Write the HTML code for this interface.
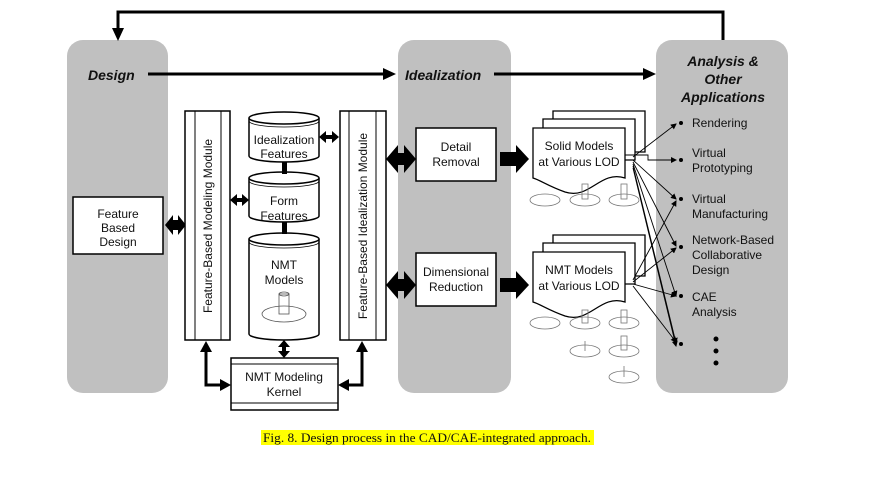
<!DOCTYPE html>
<html><head><meta charset="utf-8"><style>
body{margin:0;background:#fff;width:894px;height:478px;overflow:hidden}
svg text{font-family:"Liberation Sans",sans-serif;fill:#111}
</style></head><body>
<svg width="894" height="478" viewBox="0 0 894 478" xmlns="http://www.w3.org/2000/svg">
<defs>
<marker id="sm" markerWidth="6" markerHeight="6" refX="5" refY="3" orient="auto" markerUnits="userSpaceOnUse"><path d="M0,0 L6,3 L0,6z" fill="#000"/></marker>
</defs>
<rect x="67" y="40" width="101" height="353" rx="16" fill="#c0c0c0"/>
<rect x="398" y="40" width="113" height="353" rx="16" fill="#c0c0c0"/>
<rect x="656" y="40" width="132" height="353" rx="16" fill="#c0c0c0"/>
<polyline points="723,40 723,12 118,12 118,30" fill="none" stroke="#000" stroke-width="3"/>
<path d="M112,28 L124,28 L118,41z"/>
<text x="88" y="80" font-size="14" font-weight="bold" font-style="italic">Design</text>
<line x1="148" y1="74" x2="385" y2="74" stroke="#000" stroke-width="3"/>
<path d="M383,68 L396,74 L383,80z"/>
<text x="405" y="80" font-size="14" font-weight="bold" font-style="italic">Idealization</text>
<line x1="494" y1="74" x2="645" y2="74" stroke="#000" stroke-width="3"/>
<path d="M643,68 L656,74 L643,80z"/>
<text x="723" y="66" font-size="14" font-weight="bold" font-style="italic" text-anchor="middle">Analysis &amp;</text>
<text x="723" y="84" font-size="14" font-weight="bold" font-style="italic" text-anchor="middle">Other</text>
<text x="723" y="102" font-size="14" font-weight="bold" font-style="italic" text-anchor="middle">Applications</text>
<rect x="73" y="197" width="90" height="57" fill="#fff" stroke="#000" stroke-width="1.5"/>
<text x="118" y="218" font-size="12" text-anchor="middle">Feature</text>
<text x="118" y="232" font-size="12" text-anchor="middle">Based</text>
<text x="118" y="246" font-size="12" text-anchor="middle">Design</text>
<path d="M165,225 L173,215 L173,220 L178,220 L178,215 L186,225 L178,235 L178,230 L173,230 L173,235z"/>
<rect x="185" y="111" width="45" height="229" fill="#fff" stroke="#000" stroke-width="1.5"/>
<line x1="195" y1="111" x2="195" y2="340" stroke="#000"/><line x1="221" y1="111" x2="221" y2="340" stroke="#000"/>
<text transform="translate(212,226) rotate(-90)" font-size="12" text-anchor="middle">Feature-Based Modeling Module</text>
<rect x="340" y="111" width="46" height="229" fill="#fff" stroke="#000" stroke-width="1.5"/>
<line x1="349" y1="111" x2="349" y2="340" stroke="#000"/><line x1="376" y1="111" x2="376" y2="340" stroke="#000"/>
<text transform="translate(367,226) rotate(-90)" font-size="12" text-anchor="middle">Feature-Based Idealization Module</text>
<g fill="#fff" stroke="#000" stroke-width="1.5">
<path d="M249,118 L249,156 A35,6 0 0 0 319,156 L319,118"/>
<ellipse cx="284" cy="118" rx="35" ry="6"/>
<path d="M249,178 L249,216 A35,6 0 0 0 319,216 L319,178"/>
<ellipse cx="284" cy="178" rx="35" ry="6"/>
<path d="M249,239 L249,334 A35,6 0 0 0 319,334 L319,239"/>
<ellipse cx="284" cy="239" rx="35" ry="6"/>
</g>
<g fill="none" stroke="#000" stroke-width="0.8">
<path d="M249,121 A35,6 0 0 0 319,121"/><path d="M249,181 A35,6 0 0 0 319,181"/><path d="M249,242 A35,6 0 0 0 319,242"/>
</g>
<text x="284" y="144" font-size="12" text-anchor="middle">Idealization</text>
<text x="284" y="158" font-size="12" text-anchor="middle">Features</text>
<text x="284" y="205" font-size="12" text-anchor="middle">Form</text>
<text x="284" y="220" font-size="12" text-anchor="middle">Features</text>
<text x="284" y="269" font-size="12" text-anchor="middle">NMT</text>
<text x="284" y="284" font-size="12" text-anchor="middle">Models</text>
<g fill="none" stroke="#555" stroke-width="0.8">
<ellipse cx="284" cy="314" rx="22" ry="8"/><rect x="279" y="294" width="10" height="20"/><ellipse cx="284" cy="294" rx="5" ry="2"/>
</g>
<rect x="282" y="162" width="5" height="12"/><rect x="282" y="222" width="5" height="12"/>
<path d="M319,137 L326,131 L326,135 L332,135 L332,131 L339,137 L332,143 L332,139 L326,139 L326,143z"/>
<path d="M230,200 L237,194 L237,198 L242,198 L242,194 L249,200 L242,206 L242,202 L237,202 L237,206z"/>
<path d="M284,340 L290,347 L286,347 L286,351 L290,351 L284,358 L278,351 L282,351 L282,347 L278,347z"/>
<rect x="231" y="358" width="107" height="52" fill="#fff" stroke="#000" stroke-width="1.5"/>
<line x1="231" y1="364" x2="338" y2="364" stroke="#000"/><line x1="231" y1="403" x2="338" y2="403" stroke="#000"/>
<text x="284" y="381" font-size="12" text-anchor="middle">NMT Modeling</text>
<text x="284" y="396" font-size="12" text-anchor="middle">Kernel</text>
<polyline points="206,350 206,385 222,385" fill="none" stroke="#000" stroke-width="3"/>
<path d="M200,352 L206,341 L212,352z"/><path d="M220,379 L231,385 L220,391z"/>
<polyline points="362,350 362,385 348,385" fill="none" stroke="#000" stroke-width="3"/>
<path d="M356,352 L362,341 L368,352z"/><path d="M349,379 L338,385 L349,391z"/>
<path d="M386,159 L398,145 L398,153 L404,153 L404,145 L416,159 L404,173 L404,165 L398,165 L398,173z"/>
<path d="M386,285 L398,271 L398,279 L404,279 L404,271 L416,285 L404,299 L404,291 L398,291 L398,299z"/>
<rect x="416" y="128" width="80" height="53" fill="#fff" stroke="#000" stroke-width="1.5"/>
<text x="456" y="151" font-size="12" text-anchor="middle">Detail</text>
<text x="456" y="166" font-size="12" text-anchor="middle">Removal</text>
<rect x="416" y="253" width="80" height="53" fill="#fff" stroke="#000" stroke-width="1.5"/>
<text x="456" y="276" font-size="12" text-anchor="middle">Dimensional</text>
<text x="456" y="291" font-size="12" text-anchor="middle">Reduction</text>
<path d="M500,152 L516,152 L516,145 L529,159 L516,173 L516,166 L500,166z"/>
<path d="M500,278 L516,278 L516,271 L529,285 L516,299 L516,292 L500,292z"/>
<g fill="#fff" stroke="#000" stroke-width="1.3">
<path d="M553,111 L645,111 L645,152 L553,152z"/>
<path d="M543,119 L635,119 L635,160 L543,160z"/>
<path d="M533,128 L625,128 L625,178 C600,170 590,200 565,192 C548,186 540,180 533,178z"/>
<path d="M553,235 L645,235 L645,276 L553,276z"/>
<path d="M543,243 L635,243 L635,284 L543,284z"/>
<path d="M533,252 L625,252 L625,302 C600,294 590,324 565,316 C548,310 540,304 533,302z"/>
</g>
<text x="579" y="150" font-size="12" text-anchor="middle">Solid Models</text>
<text x="579" y="166" font-size="12" text-anchor="middle">at Various LOD</text>
<text x="579" y="274" font-size="12" text-anchor="middle">NMT Models</text>
<text x="579" y="290" font-size="12" text-anchor="middle">at Various LOD</text>
<g fill="none" stroke="#777" stroke-width="0.8">
<ellipse cx="545" cy="200" rx="15" ry="6"/><ellipse cx="585" cy="200" rx="15" ry="6"/><ellipse cx="624" cy="200" rx="15" ry="6"/>
<rect x="582" y="184" width="6" height="15"/><rect x="621" y="184" width="6" height="15"/>
<ellipse cx="545" cy="323" rx="15" ry="6"/><ellipse cx="585" cy="323" rx="15" ry="6"/><ellipse cx="624" cy="323" rx="15" ry="6"/>
<rect x="582" y="310" width="6" height="13"/><rect x="621" y="310" width="6" height="13"/>
<ellipse cx="585" cy="351" rx="15" ry="6"/><ellipse cx="624" cy="351" rx="15" ry="6"/>
<rect x="621" y="336" width="6" height="14"/><line x1="585" y1="341" x2="585" y2="351"/>
<ellipse cx="624" cy="377" rx="15" ry="6"/><line x1="624" y1="366" x2="624" y2="377"/>
</g>
<g stroke="#000" stroke-width="0.9" fill="none">
<polyline points="625,155 648,155 648,160 676,160" marker-end="url(#sm)"/>
<line x1="633" y1="157" x2="676" y2="124" marker-end="url(#sm)"/>
<line x1="633" y1="160" x2="676" y2="199" marker-end="url(#sm)"/>
<line x1="633" y1="162" x2="676" y2="246" marker-end="url(#sm)"/>
<line x1="633" y1="164" x2="676" y2="296" marker-end="url(#sm)"/>
<line x1="633" y1="166" x2="676" y2="343" marker-end="url(#sm)"/>
<line x1="633" y1="168" x2="676" y2="346" marker-end="url(#sm)"/>
<line x1="633" y1="280" x2="676" y2="201" marker-end="url(#sm)"/>
<line x1="633" y1="282" x2="676" y2="248" marker-end="url(#sm)"/>
<line x1="633" y1="284" x2="676" y2="296" marker-end="url(#sm)"/>
<line x1="633" y1="286" x2="676" y2="342" marker-end="url(#sm)"/>
</g>
<g fill="#000">
<circle cx="681" cy="123" r="2"/><circle cx="681" cy="160" r="2"/><circle cx="681" cy="199" r="2"/>
<circle cx="681" cy="247" r="2"/><circle cx="681" cy="296" r="2"/><circle cx="681" cy="344" r="2"/>
<circle cx="716" cy="339" r="2.5"/><circle cx="716" cy="351" r="2.5"/><circle cx="716" cy="363" r="2.5"/>
</g>
<g font-size="12">
<text x="692" y="127">Rendering</text>
<text x="692" y="157">Virtual</text><text x="692" y="172">Prototyping</text>
<text x="692" y="203">Virtual</text><text x="692" y="218">Manufacturing</text>
<text x="692" y="244">Network-Based</text><text x="692" y="259">Collaborative</text><text x="692" y="274">Design</text>
<text x="692" y="301">CAE</text><text x="692" y="316">Analysis</text>
</g>
<rect x="261" y="430" width="333" height="15" fill="#ffff00"/>
<text x="263" y="442" font-size="13" textLength="328" lengthAdjust="spacingAndGlyphs" style="font-family:'Liberation Serif',serif">Fig. 8. Design process in the CAD/CAE-integrated approach.</text>
</svg>
</body></html>
